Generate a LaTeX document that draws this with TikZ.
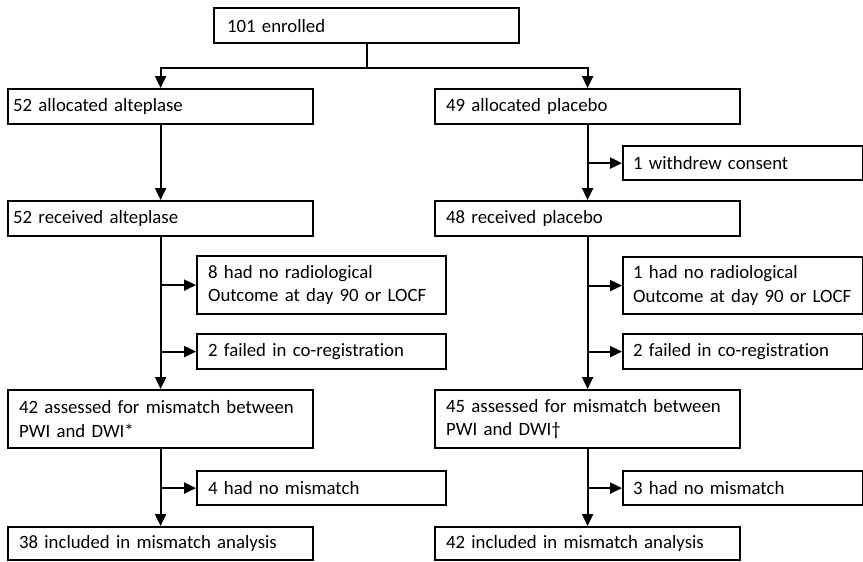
\documentclass[tikz,border=0pt]{standalone}
\usepackage{fontspec}
\setmainfont{Carlito}[WordSpace=0.85,Ligatures=NoCommon]
\usetikzlibrary{arrows.meta}
\hyphenpenalty=10000
\exhyphenpenalty=10000

\begin{document}
\begin{tikzpicture}[x=1pt,y=-1pt]
\tikzstyle{every node}+=[inner sep=0pt]
\tikzstyle{flowbox}=[draw,line width=2.2pt,anchor=north west,align=left,inner xsep=11pt,font=\fontsize{18.8}{23.5}\selectfont]
\tikzstyle{mainbox}=[flowbox,text width=283pt,minimum height=35pt]
\tikzstyle{sidebox}=[flowbox,text width=227pt,minimum height=35pt]
\tikzstyle{rightbox}=[flowbox,inner xsep=10pt,text width=220pt,minimum height=35pt]
\tikzstyle{link}=[line width=2.2pt,-{Triangle[length=12pt,width=11pt]}]

\useasboundingbox (0,0) rectangle (863,562);

\node [mainbox,inner xsep=13pt,text width=279pt] (enr) at (213,7) {101 enrolled};
\node [mainbox,inner xsep=5pt,text width=295pt] (altA) at (7,88) {52 allocated alteplase};
\node [mainbox] (plaA) at (434,88) {49 allocated placebo};
\node [rightbox,minimum height=34pt] (wdr) at (622,145) {1 withdrew consent};
\node [mainbox,inner xsep=5pt,text width=295pt] (altR) at (7,200) {52 received alteplase};
\node [mainbox] (plaR) at (434,200) {48 received placebo};
\node [sidebox,minimum height=58pt] (radL) at (196,255) {8 had no radiological\\Outcome at day 90 or LOCF};
\node [rightbox,minimum height=57pt] (radR) at (622,256) {1 had no radiological\\Outcome at day 90 or LOCF};
\node [sidebox] (regL) at (196,333) {2 failed in co-registration};
\node [rightbox] (regR) at (622,333) {2 failed in co-registration};
\node [mainbox,minimum height=58pt] (misL) at (7,389) {42 assessed for mismatch between\\PWI and DWI*};
\node [mainbox,minimum height=58pt] (misR) at (434,389) {45 assessed for mismatch between\\PWI and DWI\textdagger};
\node [sidebox,minimum height=34pt] (noL) at (196,470) {4 had no mismatch};
\node [rightbox,minimum height=34pt] (noR) at (622,470) {3 had no mismatch};
\node [mainbox,minimum height=33pt] (incL) at (7,526) {38 included in mismatch analysis};
\node [mainbox,minimum height=33pt] (incR) at (434,526) {42 included in mismatch analysis};

\draw [line width=2.2pt] (enr.south) -- ++(0,24) coordinate (split);
\draw [link] (split) -| (altA.north);
\draw [link] (split) -| (plaA.north);

\draw [link] (altA.south) -- (altR.north);
\draw [link] (plaA.south) -- (plaR.north);
\draw [link] (plaA.south |- wdr.west) -- (wdr.west);

\draw [link] (altR.south) -- (misL.north);
\draw [link] (altR.south |- radL.west) -- (radL.west);
\draw [link] (altR.south |- regL.west) -- (regL.west);
\draw [link] (plaR.south) -- (misR.north);
\draw [link] (plaR.south |- radR.west) -- (radR.west);
\draw [link] (plaR.south |- regR.west) -- (regR.west);

\draw [link] (misL.south) -- (incL.north);
\draw [link] (misL.south |- noL.west) -- (noL.west);
\draw [link] (misR.south) -- (incR.north);
\draw [link] (misR.south |- noR.west) -- (noR.west);
\end{tikzpicture}
\end{document}
